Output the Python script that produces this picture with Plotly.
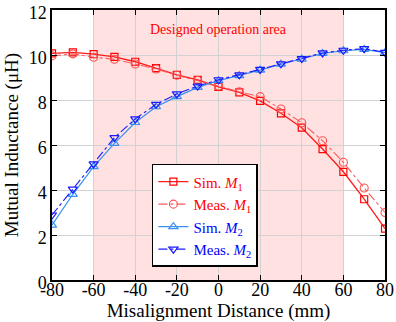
import plotly.graph_objects as go

x_mm = [-80, -70, -60, -50, -40, -30, -20, -10, 0, 10, 20, 30, 40, 50, 60, 70, 80]
sim_m1 = [10.07, 10.12, 10.04, 9.92, 9.70, 9.42, 9.12, 8.89, 8.58, 8.34, 7.96, 7.41, 6.77, 5.82, 4.81, 3.59, 2.28]
meas_m1 = [9.96, 10.05, 9.90, 9.81, 9.60, 9.38, 9.10, 8.87, 8.62, 8.36, 8.15, 7.60, 6.99, 6.19, 5.23, 4.09, 3.00]
sim_m2 = [2.44, 3.81, 5.04, 6.07, 7.00, 7.70, 8.15, 8.56, 8.86, 9.08, 9.33, 9.59, 9.82, 10.07, 10.19, 10.25, 10.10]
meas_m2 = [2.89, 4.04, 5.16, 6.33, 7.16, 7.81, 8.27, 8.62, 8.90, 9.12, 9.36, 9.61, 9.84, 10.09, 10.21, 10.28, 10.12]
x_ticks = [-80, -60, -40, -20, 0, 20, 40, 60, 80]
x_tick_text = ["-80", "-60", "-40", "-20", "0", "20", "40", "60", "80"]
y_ticks = [0, 2, 4, 6, 8, 10, 12]
area = [-60, 60]

FONT = "Liberation Serif"

fig = go.Figure()

fig.add_trace(go.Scatter(
    x=x_mm, y=sim_m1, mode="lines+markers",
    name="<span style='color:#ff0000'>Sim. <i>M</i><sub>1</sub></span>",
    line=dict(color="#ff1a1a", width=1.3),
    marker=dict(symbol="square-open", size=7, color="#ff0000", line=dict(width=1.2))))
fig.add_trace(go.Scatter(
    x=x_mm, y=meas_m1, mode="lines+markers",
    name="<span style='color:#ff0000'>Meas. <i>M</i><sub>1</sub></span>",
    line=dict(color="#ff5a5a", width=1.1, dash="dashdot"),
    marker=dict(symbol="circle-open", size=8, color="#ff5050", line=dict(width=1.1))))
fig.add_trace(go.Scatter(
    x=x_mm, y=sim_m2, mode="lines+markers",
    name="<span style='color:#0000ff'>Sim. <i>M</i><sub>2</sub></span>",
    line=dict(color="#3a90ee", width=1.2),
    marker=dict(symbol="triangle-up-open", size=8, color="#3a90ee", line=dict(width=1.2))))
fig.add_trace(go.Scatter(
    x=x_mm, y=meas_m2, mode="lines+markers",
    name="<span style='color:#0000ff'>Meas. <i>M</i><sub>2</sub></span>",
    line=dict(color="#1a1aff", width=1.1, dash="dashdot"),
    marker=dict(symbol="triangle-down-open", size=8, color="#1a1aff", line=dict(width=1.2))))

fig.add_shape(type="rect", xref="x", yref="y", x0=area[0], x1=area[1], y0=0, y1=12,
              fillcolor="#ffe1e1", line=dict(width=0), layer="below")

fig.add_annotation(x=0, y=11.15, xref="x", yref="y", text="Designed operation area",
                   showarrow=False, font=dict(family=FONT, size=14, color="#ff0000"))

axis_common = dict(
    showline=True, linecolor="black", linewidth=1.5, mirror="allticks",
    ticks="inside", ticklen=5, tickwidth=1.2, tickcolor="black",
    showgrid=True, gridcolor="#d2d2d2", gridwidth=1, zeroline=False,
    tickfont=dict(family=FONT, size=18, color="black"),
    automargin=False,
)

fig.update_xaxes(range=[-80, 80], tickvals=x_ticks, ticktext=x_tick_text,
                 ticklabelstandoff=-7,
                 title=dict(text="Misalignment Distance (mm)", standoff=0,
                            font=dict(family=FONT, size=19, color="black")),
                 **axis_common)
fig.update_yaxes(range=[0, 12], tickvals=y_ticks, ticklabelshift=3,
                 title=dict(text="Mutual Inductance (μH)", standoff=5,
                            font=dict(family=FONT, size=19, color="black")),
                 **axis_common)

fig.update_layout(
    width=396, height=322,
    margin=dict(l=52, r=11, t=10, b=42),
    plot_bgcolor="white", paper_bgcolor="white",
    font=dict(family=FONT, size=16, color="black"),
    legend=dict(x=0.30, y=0.43, xanchor="left", yanchor="top",
                bgcolor="white", bordercolor="black", borderwidth=1.5,
                font=dict(family=FONT, size=15), tracegroupgap=0,
                itemwidth=30),
    showlegend=True,
)

fig.write_html("out.html", config={"displayModeBar": False},
               post_script="document.body.style.margin='0';document.body.style.padding='0';")
